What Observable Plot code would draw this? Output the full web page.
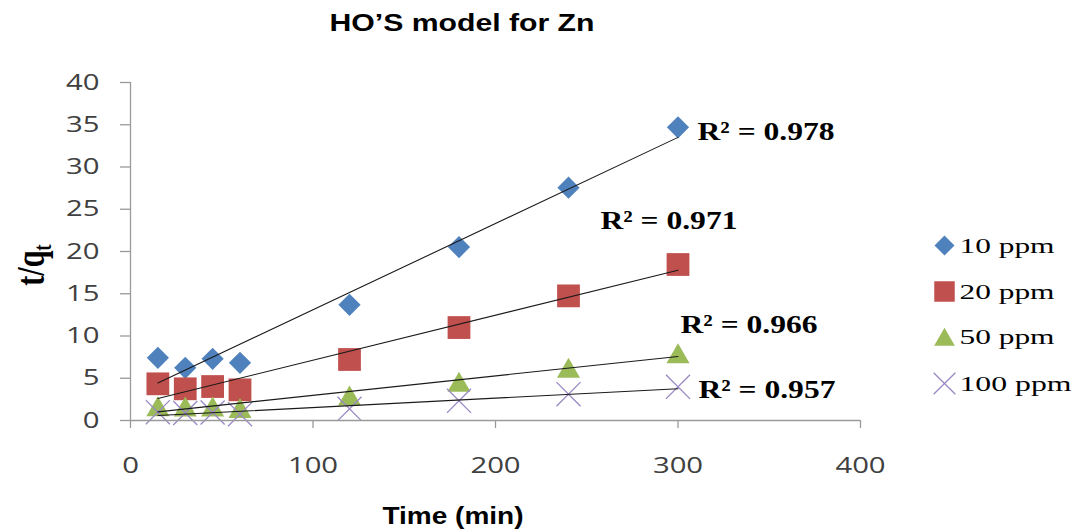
<!DOCTYPE html>
<html><head><meta charset="utf-8">
<script src="https://cdn.jsdelivr.net/npm/d3@7"></script>
<script src="https://cdn.jsdelivr.net/npm/@observablehq/plot@0.6"></script>
<style>
body{margin:0;background:#fff;}
#chart{position:relative;width:1074px;height:531px;}
</style>
</head><body><div id="chart"></div>
<script>
// ---- data ----
const times = [15, 30, 45, 60, 120, 180, 240, 300];
const seriesNames = ["10 ppm", "20 ppm", "50 ppm", "100 ppm"];
const ppm10 = [7.42, 6.23, 7.30, 6.83, 13.69, 20.52, 27.55, 34.70];
const ppm20 = [4.34, 3.75, 4.02, 3.63, 7.22, 11.00, 14.75, 18.46];
const ppm50 = [1.68, 1.66, 1.66, 1.48, 2.96, 4.59, 6.23, 7.95];
const ppm100 = [0.99, 0.89, 0.95, 0.75, 1.38, 2.33, 3.12, 3.98];
const r2Labels = ["R² = 0.978", "R² = 0.971", "R² = 0.966", "R² = 0.957"];
const r2AtTime = [310.7, 257.5, 301.4, 311.2];
const r2AtValue = [34.2, 23.6, 11.3, 3.7];
const xTicks = [0, 100, 200, 300, 400];
const yTicks = [0, 5, 10, 15, 20, 25, 30, 35, 40];

const seriesValues = [ppm10, ppm20, ppm50, ppm100];
const rows = seriesNames.flatMap((s, i) => times.map((t, j) => ({series: s, time: t, value: seriesValues[i][j]})));

// ---- styles ----
const styles = [
  {symbol: "diamond2", r: 10, fill: "#4F81BD", stroke: "none", sw: 0, dy: 0},
  {symbol: "square2", r: 14.5, fill: "#C0504D", stroke: "none", sw: 0, dy: 0},
  {symbol: "triangle2", r: 11, fill: "#9BBB59", stroke: "none", sw: 0, dy: 3.3},
  {symbol: "times", r: 11, fill: "none", stroke: "#9A88C4", sw: 1.3, dy: 0}
];
const legendDy = [163, 209, 254, 301];

const marks = [];
// points
seriesNames.forEach((s, i) => {
  const st = styles[i];
  marks.push(Plot.dot(rows.filter(d => d.series === s), {
    x: "time", y: "value", symbol: st.symbol, r: st.r,
    fill: st.fill, stroke: st.stroke, strokeWidth: st.sw, dy: st.dy
  }));
});
// trend lines
marks.push(Plot.linearRegressionY(rows, {x: "time", y: "value", z: "series", stroke: "#1a1a1a", strokeWidth: 1.1, ci: 0}));
// axis lines
marks.push(Plot.ruleX([0], {y1: 0, y2: 40, stroke: "#9a9a9a", strokeWidth: 1.3}));
marks.push(Plot.ruleY([0], {x1: 0, x2: 400, stroke: "#9a9a9a", strokeWidth: 1.3}));
marks.push(Plot.axisY(yTicks, {tickSize: 10, tickPadding: 21, stroke: "#9a9a9a", strokeWidth: 1.3, fill: "#404040", fontSize: 22, fontFamily: "Open Sans", label: null}));
marks.push(Plot.axisX(xTicks, {tickSize: 8, tickPadding: 29, stroke: "#9a9a9a", strokeWidth: 1.3, fill: "#404040", fontSize: 22, fontFamily: "Open Sans", label: null}));
// R² labels
marks.push(Plot.text(r2Labels, {x: r2AtTime, y: r2AtValue, text: d => d, textAnchor: "start",
  fontFamily: "Liberation Serif", fontWeight: "bold", fontSize: 26, fill: "#000"}));
// legend
seriesNames.forEach((s, i) => {
  const st = styles[i];
  marks.push(Plot.dot([s], {frameAnchor: "top-right", dx: 84, dy: legendDy[i] + st.dy,
    symbol: st.symbol, r: st.r * 0.9, fill: st.fill, stroke: st.stroke, strokeWidth: st.sw}));
  marks.push(Plot.text([s], {frameAnchor: "top-right", lineAnchor: "middle", dx: 99, dy: legendDy[i], text: d => d,
    textAnchor: "start", fontFamily: "Liberation Serif", fontSize: 22, fill: "#000"}));
});

const plot = Plot.plot({
  width: 1074, height: 531,
  marginLeft: 130, marginRight: 214, marginTop: 82, marginBottom: 111,
  x: {domain: [0, 400]},
  y: {domain: [0, 40]},
  style: {background: "#fff", overflow: "visible"},
  marks
});
document.getElementById("chart").appendChild(plot);

const svg = d3.select(plot);
function stretch(sel, factor, fixed) {
  sel.each(function () {
    const w = fixed || this.getComputedTextLength() * factor;
    this.setAttribute("textLength", w);
    this.setAttribute("lengthAdjust", "spacingAndGlyphs");
  });
}
stretch(svg.selectAll('g[aria-label="y-axis tick label"] text'), 1.33);
stretch(svg.selectAll('g[aria-label="x-axis tick label"] text'), 1.33);
svg.selectAll('g[aria-label="text"] text').each(function () {
  const t = this.textContent;
  if (t.startsWith("R²")) stretch(d3.select(this), 1, 137);
  else stretch(d3.select(this), 1, t.length > 6 ? 112 : 95);
});

// title
const title = svg.append("text").attr("x", 462).attr("y", 31).attr("text-anchor", "middle")
  .attr("font-family", "Liberation Sans, Arial, sans-serif").attr("font-weight", "bold").attr("font-size", 24)
  .attr("fill", "#000").text("HO’S model for Zn");
stretch(title, 1, 265);
// x label
const xl = svg.append("text").attr("x", 453).attr("y", 524).attr("text-anchor", "middle")
  .attr("font-family", "Liberation Sans, Arial, sans-serif").attr("font-weight", "bold").attr("font-size", 23)
  .attr("fill", "#000").text("Time (min)");
stretch(xl, 1, 141);
// y label
const yl = svg.append("text").attr("transform", "translate(44,265) scale(1.3,1) rotate(-90)")
  .attr("text-anchor", "middle").attr("font-family", "Liberation Serif, serif").attr("font-weight", "bold")
  .attr("font-size", 30).attr("fill", "#000");
yl.append("tspan").text("t/q");
yl.append("tspan").attr("font-size", 19).attr("dy", 5).text("t");
</script>
</body></html>
